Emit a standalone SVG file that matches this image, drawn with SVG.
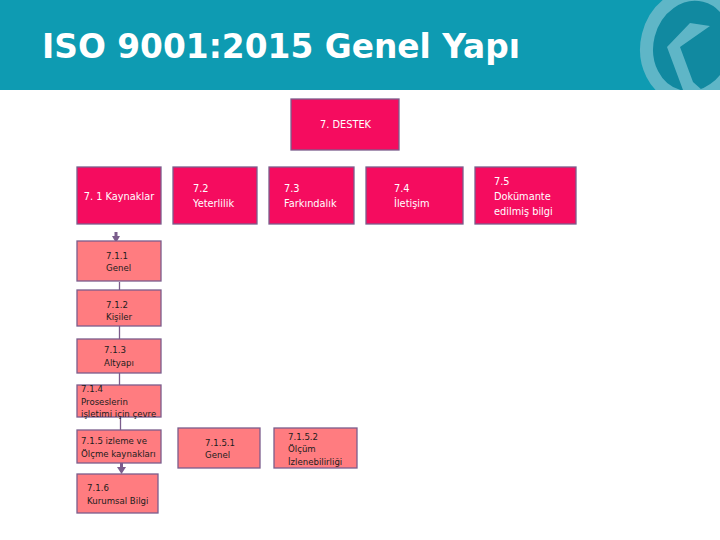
<svg xmlns="http://www.w3.org/2000/svg" width="720" height="540" viewBox="0 0 720 540">
<defs>
<style>
text{font-family:"DejaVu Sans","Liberation Sans",sans-serif}
.h{fill:#f50c5f;stroke:#7b5d8c;stroke-width:1.3}
.s{fill:#ff7c80;stroke:#7b5d8c;stroke-width:1.3}
.w{fill:#fff;font-size:9.8px}
.b{fill:#1c1c1c;font-size:8.6px}
.c{stroke:#7b5d8c;stroke-width:1.3;fill:none}
.t{stroke:#7b5d8c;stroke-width:3;fill:none}
.a{fill:#7b5d8c}
</style>
<clipPath id="hc"><rect x="0" y="0" width="720" height="90"/></clipPath>
</defs>
<rect width="720" height="540" fill="#fff"/>
<g id="header">
<rect width="720" height="90" fill="#0e9bb2"/>
<g clip-path="url(#hc)">
<ellipse cx="692" cy="46" rx="45" ry="52" fill="#1189a0" stroke="#5fb6c7" stroke-width="13" transform="rotate(14 692 46)"/>
<path d="M710 26L690 23L667 47L683 90L702 90L693 82L680 47Z" fill="#5fb6c7"/>
</g>
<text x="42" y="58" font-size="33" font-weight="700" fill="#fff" textLength="478" lengthAdjust="spacingAndGlyphs">ISO 9001:2015 Genel Yapı</text>
</g>
<g id="connectors">
<path class="c" d="M119.500 282V339M119.500 373V385M120.500 417V430"/>
<path class="t" d="M116 232V238"/>
<path class="a" d="M112 236H120L116 243Z"/>
<path class="t" d="M121.500 463V469"/>
<path class="a" d="M117 467H126L121.500 474Z"/>
</g>
<g id="destek"><rect class="h" x="291" y="99" width="108" height="51"/><text class="w" x="345.500" y="128" text-anchor="middle">7. DESTEK</text></g>
<g id="n71"><rect class="h" x="77" y="167" width="84" height="57"/><text class="w" x="119" y="200" text-anchor="middle">7. 1 Kaynaklar</text></g>
<g id="n72"><rect class="h" x="173" y="167" width="84" height="57"/><text class="w" x="193" y="192">7.2</text><text class="w" x="193" y="207">Yeterlilik</text></g>
<g id="n73"><rect class="h" x="269" y="167" width="85" height="57"/><text class="w" x="284" y="192">7.3</text><text class="w" x="284" y="207">Farkındalık</text></g>
<g id="n74"><rect class="h" x="366" y="167" width="97" height="57"/><text class="w" x="394" y="192">7.4</text><text class="w" x="394" y="207">İletişim</text></g>
<g id="n75"><rect class="h" x="475" y="167" width="101" height="57"/><text class="w" x="494" y="185">7.5</text><text class="w" x="494" y="200">Dokümante</text><text class="w" x="494" y="215">edilmiş bilgi</text></g>
<g id="n711"><rect class="s" x="77" y="241" width="84" height="40"/><text class="b" x="106" y="259">7.1.1</text><text class="b" x="106" y="271">Genel</text></g>
<g id="n712"><rect class="s" x="77" y="290" width="84" height="36"/><text class="b" x="106" y="308">7.1.2</text><text class="b" x="106" y="320">Kişiler</text></g>
<g id="n713"><rect class="s" x="77" y="339" width="84" height="34"/><text class="b" x="104" y="353">7.1.3</text><text class="b" x="104" y="366">Altyapı</text></g>
<g id="n714"><rect class="s" x="77" y="385" width="84" height="32"/><text class="b" x="81" y="392">7.1.4</text><text class="b" x="81" y="405">Proseslerin</text><text class="b" x="81" y="417">işletimi için çevre</text></g>
<g id="n715"><rect class="s" x="77" y="430" width="84" height="33"/><text class="b" x="81" y="444">7.1.5 izleme ve</text><text class="b" x="81" y="457">Ölçme kaynakları</text></g>
<g id="n716"><rect class="s" x="77" y="474" width="81" height="39"/><text class="b" x="87" y="491">7.1.6</text><text class="b" x="87" y="504">Kurumsal Bilgi</text></g>
<g id="n7151"><rect class="s" x="178" y="428" width="82" height="40"/><text class="b" x="205" y="446">7.1.5.1</text><text class="b" x="205" y="458">Genel</text></g>
<g id="n7152"><rect class="s" x="274" y="428" width="83" height="40"/><text class="b" x="288" y="440">7.1.5.2</text><text class="b" x="288" y="452">Ölçüm</text><text class="b" x="288" y="465">İzlenebilirliği</text></g>
</svg>
